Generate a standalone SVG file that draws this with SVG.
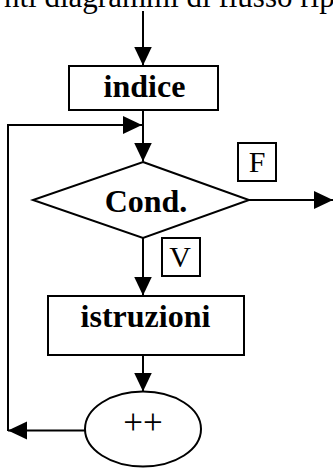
<svg xmlns="http://www.w3.org/2000/svg" width="333" height="468" viewBox="0 0 333 468">
  <style>
    .shape { fill: #ffffff; stroke: #000000; stroke-width: 2; }
    .line { fill: none; stroke: #000000; stroke-width: 2; }
    .bold { font-family: "Liberation Serif", "Times New Roman", serif; font-weight: bold; font-size: 32px; fill: #000000; text-anchor: middle; }
    .plain { font-family: "Liberation Serif", "Times New Roman", serif; font-size: 30px; fill: #000000; text-anchor: middle; }
    .heading { font-family: "Liberation Serif", "Times New Roman", serif; font-size: 31px; fill: #000000; }
  </style>
  <defs>
    <marker id="arrow" markerUnits="userSpaceOnUse" markerWidth="20" markerHeight="20" viewBox="0 0 20 20" refX="19" refY="9" orient="auto">
      <path d="M0,0 L19,9 L0,18 Z" fill="#000000"/>
    </marker>
  </defs>
  <rect width="333" height="468" fill="#ffffff"/>

  <!-- heading line, cut off at the top edge -->
  <text class="heading" x="4" y="7">nti diagrammi di flusso rip</text>

  <g id="connectors">
    <line class="line" x1="143" y1="11" x2="143" y2="65.5" marker-end="url(#arrow)"/>
    <line class="line" x1="143" y1="110" x2="143" y2="161.5" marker-end="url(#arrow)"/>
    <polyline class="line" points="8,431 8,125 142,125" marker-end="url(#arrow)"/>
    <line class="line" x1="249" y1="200" x2="333" y2="200" marker-end="url(#arrow)"/>
    <line class="line" x1="143" y1="238" x2="143" y2="295.5" marker-end="url(#arrow)"/>
    <line class="line" x1="143" y1="355" x2="143" y2="391.5" marker-end="url(#arrow)"/>
    <line class="line" x1="85" y1="430.5" x2="8" y2="430.5" marker-end="url(#arrow)"/>
  </g>

  <g id="indice">
    <rect class="shape" x="69" y="66" width="149" height="44"/>
    <text class="bold" x="144.5" y="97">indice</text>
  </g>

  <g id="cond">
    <polygon class="shape" points="143,162 249,200 143,238 33,200"/>
    <text class="bold" x="146" y="212">Cond.</text>
  </g>

  <g id="label-f">
    <rect class="shape" x="238" y="143" width="38" height="38"/>
    <text class="plain" x="257" y="172">F</text>
  </g>

  <g id="label-v">
    <rect class="shape" x="162" y="238" width="38" height="38"/>
    <text class="plain" x="180" y="267">V</text>
  </g>

  <g id="istruzioni">
    <rect class="shape" x="48" y="296" width="196" height="59"/>
    <text class="bold" x="145.5" y="327">istruzioni</text>
  </g>

  <g id="incremento">
    <ellipse class="shape" cx="143" cy="429" rx="58" ry="37.5"/>
    <text class="plain" x="143" y="434" style="font-size:35px">++</text>
  </g>
</svg>
